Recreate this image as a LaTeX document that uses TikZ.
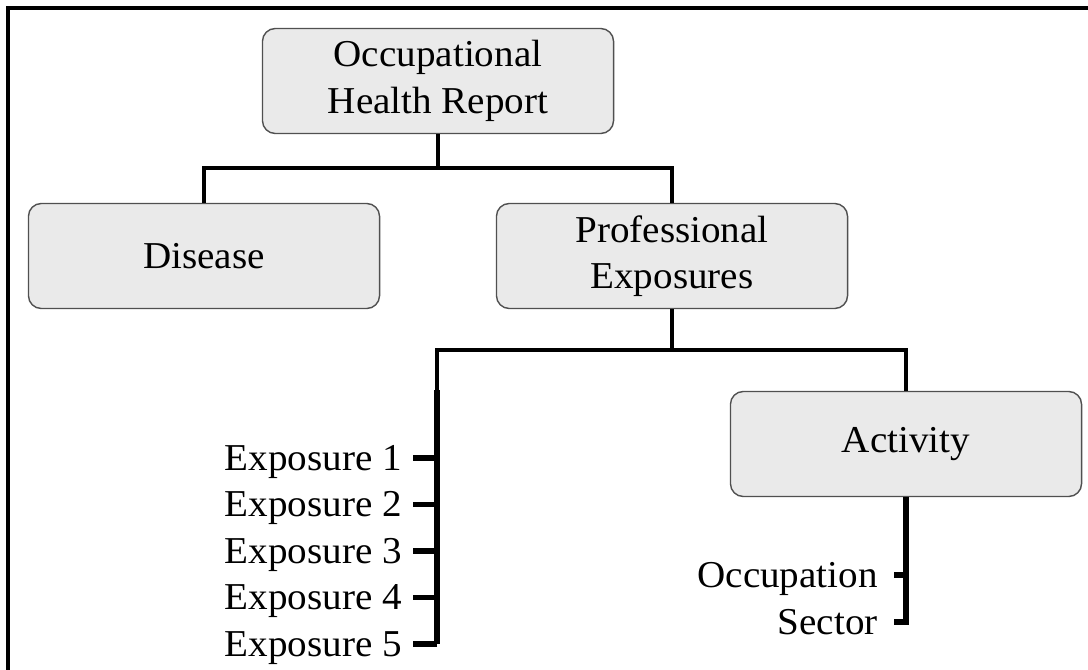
\documentclass[tikz,border=0pt]{standalone}
\usepackage{fontspec}
\setmainfont{Liberation Serif}[FakeStretch=1.03]
\definecolor{boxfill}{HTML}{EAEAEA}
\definecolor{boxline}{HTML}{505050}
\begin{document}
\begin{tikzpicture}[x=0.025cm,y=-0.025cm,
		box/.style={rectangle,rounded corners=0.32cm,draw=boxline,line width=1pt,fill=boxfill,minimum width=8.775cm,minimum height=2.625cm,align=center,font=\fontsize{27}{33}\selectfont},
		lbl/.style={inner sep=0pt,anchor=base east,font=\fontsize{27}{33}\selectfont},
		link/.style={line width=2.6pt},
		bar/.style={line width=3.6pt}]
		\useasboundingbox (0,0) rectangle (1088,670);
		\draw[line width=2.6pt] (8,670) -- (8,8) -- (1088,8);
		\node [box] at (438,81) (ohr) {Occupational\\Health Report};
		\node [box] at (204,256) (dis) {Disease};
		\node [box] at (672,256) (pe) {Professional\\Exposures};
		\node [box] at (906,444) (act) {Activity};
		\coordinate (j1) at (438,168);
		\coordinate (j2) at (672,350);
		\coordinate (e0) at (437,390);
		\draw[link] (ohr.south) -- (j1);
		\draw[link] (dis.north) |- (j1) -| (pe.north);
		\draw[link] (pe.south) -- (j2);
		\draw[link] (e0) |- (j2) -| (act.north);
		\foreach \i in {1,...,5} {
			\coordinate (t\i) at (437,{458+46.5*(\i-1)});
			\node [lbl] at (402,{470+46.5*(\i-1)}) (ex\i) {Exposure \i};
			\draw[bar] (t\i) -- ++(-24,0);
		}
		\draw[bar] (e0) -- (t5);
		\coordinate (s1) at (906,575);
		\coordinate (s2) at (906,622);
		\node [lbl] at (878,587) (occ) {Occupation};
		\node [lbl] at (878,634) (sec) {Sector};
		\draw[bar] (act.south) -- (s2) -- ++(-12,0);
		\draw[bar] (s1) -- ++(-12,0);
	\end{tikzpicture}
\end{document}
